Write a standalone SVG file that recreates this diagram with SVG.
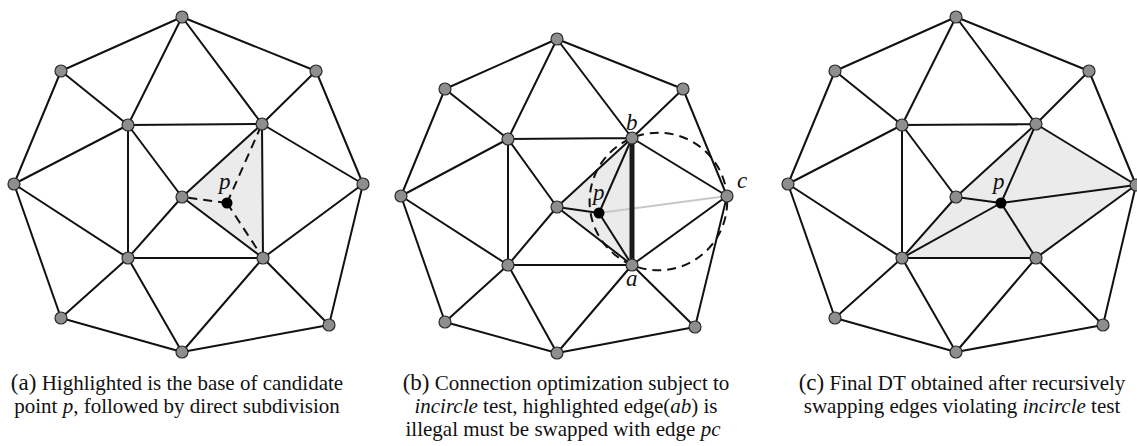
<svg xmlns="http://www.w3.org/2000/svg" width="1137" height="446" viewBox="0 0 1137 446">
<style>
.e{stroke:#111;stroke-width:2;fill:none;stroke-linecap:round}
.sh{fill:#ebebeb;stroke:none}
.n{fill:#8e8e8e;stroke:#2a2a2a;stroke-width:1.2}
.pt{fill:#000}
.d{stroke:#111;stroke-width:2;fill:none;stroke-dasharray:9 6}
.lbl{font-family:"Liberation Serif",serif;font-style:italic;font-size:23px;fill:#111}
.cap{font-family:"Liberation Serif",serif;font-size:21px;fill:#111;text-anchor:middle}
.it{font-style:italic}
</style>
<defs>
<circle id="nd" r="6" class="n"/>
</defs>

<!-- ========== (a) ========== -->
<g id="diagram-a">
<polygon class="sh" points="182,197 262,124 263,258"/>
<g id="connectors-a">
<path class="e" d="M182,17L61,71 M182,17L316,71 M182,17L128,125 M182,17L262,124 M61,71L128,125 M61,71L14,184 M316,71L262,124 M316,71L363,184 M128,125L262,124 M128,125L14,184 M128,125L128,258 M128,125L182,197 M262,124L363,184 M14,184L128,258 M14,184L61,318 M363,184L263,258 M363,184L329,325 M182,197L128,258 M128,258L263,258 M128,258L61,318 M128,258L182,352 M263,258L182,352 M263,258L329,325 M61,318L182,352 M329,325L182,352 M262,124L182,197 M262,124L263,258 M182,197L263,258"/>
<path class="d" d="M227,203L182,197 M227,203L262,124 M227,203L263,258"/>
</g>
<g id="nodes-a">
<use href="#nd" x="182" y="17"/><use href="#nd" x="61" y="71"/><use href="#nd" x="316" y="71"/>
<use href="#nd" x="128" y="125"/><use href="#nd" x="262" y="124"/><use href="#nd" x="14" y="184"/>
<use href="#nd" x="363" y="184"/><use href="#nd" x="182" y="197"/><use href="#nd" x="128" y="258"/>
<use href="#nd" x="263" y="258"/><use href="#nd" x="61" y="318"/><use href="#nd" x="329" y="325"/>
<use href="#nd" x="182" y="352"/>
</g>
<g id="p-a"><circle class="pt" cx="227" cy="203" r="5.5"/><text class="lbl" x="219" y="189">p</text></g>
</g>

<!-- ========== (b) ========== -->
<g id="diagram-b">
<polygon class="sh" points="557,207 632,138 632,265"/>
<g id="connectors-b">
<path class="e" d="M557,39L445,89 M557,39L683,89 M557,39L508,139 M557,39L632,138 M445,89L508,139 M445,89L401,196 M683,89L632,138 M683,89L727,196 M508,139L632,138 M508,139L401,196 M508,139L508,265 M508,139L557,207 M632,138L727,196 M401,196L508,265 M401,196L445,322 M727,196L632,265 M727,196L695,327 M557,207L508,265 M508,265L632,265 M508,265L445,322 M508,265L557,353 M632,265L557,353 M632,265L695,327 M445,322L557,353 M695,327L557,353 M632,138L557,207 M557,207L632,265 M599,213L557,207 M599,213L632,138 M599,213L632,265"/>
<path d="M599,213L727,196" stroke="#c8c8c8" stroke-width="2" fill="none"/>
<path d="M632,138L632,265" stroke="#1a1a1a" stroke-width="5" fill="none"/>
<circle class="d" cx="658.4" cy="201.5" r="68.8"/>
</g>
<g id="nodes-b">
<use href="#nd" x="557" y="39"/><use href="#nd" x="445" y="89"/><use href="#nd" x="683" y="89"/>
<use href="#nd" x="508" y="139"/><use href="#nd" x="632" y="138"/><use href="#nd" x="401" y="196"/>
<use href="#nd" x="727" y="196"/><use href="#nd" x="557" y="207"/><use href="#nd" x="508" y="265"/>
<use href="#nd" x="632" y="265"/><use href="#nd" x="445" y="322"/><use href="#nd" x="695" y="327"/>
<use href="#nd" x="557" y="353"/>
</g>
<g id="p-b"><circle class="pt" cx="599" cy="213" r="5.5"/><text class="lbl" x="593" y="200">p</text></g>
<text class="lbl" x="626" y="130">b</text>
<text class="lbl" x="626" y="286">a</text>
<text class="lbl" x="737" y="188">c</text>
</g>

<!-- ========== (c) ========== -->
<g id="diagram-c">
<polygon class="sh" points="956,197 1036,124 1136,185 1036,258 902,258"/>
<g id="connectors-c">
<path class="e" d="M956,17L835,71 M956,17L1089,71 M956,17L902,125 M956,17L1036,124 M835,71L902,125 M835,71L788,184 M1089,71L1036,124 M1089,71L1136,185 M902,125L1036,124 M902,125L788,184 M902,125L902,258 M902,125L956,197 M1036,124L1136,185 M788,184L902,258 M788,184L835,318 M1136,185L1036,258 M1136,185L1103,325 M956,197L902,258 M902,258L1036,258 M902,258L835,318 M902,258L956,352 M1036,258L956,352 M1036,258L1103,325 M835,318L956,352 M1103,325L956,352 M1036,124L956,197 M1001,203L956,197 M1001,203L1036,124 M1001,203L1136,185 M1001,203L1036,258 M1001,203L902,258"/>
</g>
<g id="nodes-c">
<use href="#nd" x="956" y="17"/><use href="#nd" x="835" y="71"/><use href="#nd" x="1089" y="71"/>
<use href="#nd" x="902" y="125"/><use href="#nd" x="1036" y="124"/><use href="#nd" x="788" y="184"/>
<use href="#nd" x="1136" y="185"/><use href="#nd" x="956" y="197"/><use href="#nd" x="902" y="258"/>
<use href="#nd" x="1036" y="258"/><use href="#nd" x="835" y="318"/><use href="#nd" x="1103" y="325"/>
<use href="#nd" x="956" y="352"/>
</g>
<g id="p-c"><circle class="pt" cx="1001" cy="203" r="5.5"/><text class="lbl" x="993" y="189">p</text></g>
</g>

<!-- ========== captions ========== -->
<g id="captions">
<text class="cap" x="177" y="390"><tspan font-size="23">(a)</tspan> Highlighted is the base of  candidate</text>
<text class="cap" x="177" y="413">point <tspan class="it">p</tspan>, followed by direct subdivision</text>
<text class="cap" x="566" y="390"><tspan font-size="23">(b)</tspan> Connection optimization subject to</text>
<text class="cap" x="566" y="413"><tspan class="it">incircle</tspan> test, highlighted edge(<tspan class="it">ab</tspan>) is</text>
<text class="cap" x="563" y="436">illegal must be swapped with edge <tspan class="it">pc</tspan></text>
<text class="cap" x="962" y="390"><tspan font-size="23">(c)</tspan> Final DT obtained after recursively</text>
<text class="cap" x="962" y="413">swapping edges violating <tspan class="it">incircle</tspan> test</text>
</g>
</svg>
